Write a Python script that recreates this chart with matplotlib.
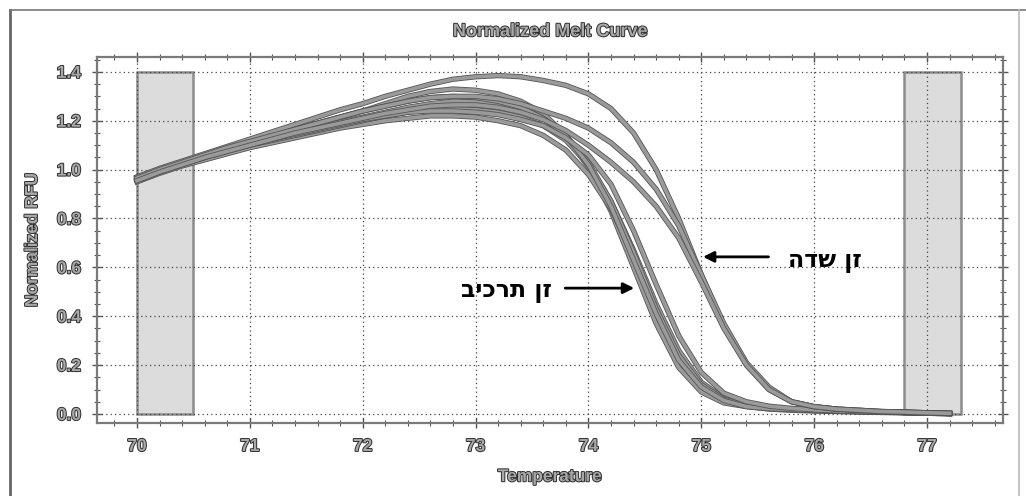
import numpy as np
import matplotlib.pyplot as plt
import matplotlib.patheffects as pe
from matplotlib.patches import Rectangle
from matplotlib.ticker import MultipleLocator

plt.rcParams['font.family'] = ['Liberation Sans', 'DejaVu Sans']

# melt temperatures (deg C)
temps = [70.0, 70.2, 70.4, 70.6, 70.8, 71.0, 71.2, 71.4, 71.6, 71.8,
         72.0, 72.2, 72.4, 72.6, 72.8, 73.0, 73.2, 73.4, 73.6, 73.8,
         74.0, 74.2, 74.4, 74.6, 74.8, 75.0, 75.2, 75.4, 75.6, 75.8,
         76.0, 76.2, 76.4, 76.6, 76.8, 77.0, 77.2]

# graft strain wells (earlier melt)
graft1 = [0.96, 0.995, 1.025, 1.055, 1.085, 1.11, 1.14, 1.165, 1.19, 1.215,
          1.24, 1.27, 1.30, 1.32, 1.33, 1.325, 1.31, 1.28, 1.23, 1.14,
          1.01, 0.83, 0.60, 0.37, 0.19, 0.09, 0.045, 0.03, 0.02, 0.015,
          0.012, 0.01, 0.008, 0.006, 0.005, 0.003, 0.0]
graft2 = [0.95, 0.985, 1.015, 1.04, 1.065, 1.09, 1.11, 1.13, 1.15, 1.17,
          1.185, 1.20, 1.21, 1.22, 1.22, 1.215, 1.20, 1.18, 1.14, 1.08,
          0.98, 0.84, 0.65, 0.44, 0.25, 0.12, 0.06, 0.035, 0.025, 0.02,
          0.015, 0.012, 0.01, 0.008, 0.006, 0.004, 0.002]
graft3 = [0.96, 0.995, 1.025, 1.05, 1.075, 1.10, 1.12, 1.14, 1.16, 1.18,
          1.20, 1.22, 1.235, 1.245, 1.25, 1.245, 1.235, 1.215, 1.18, 1.12,
          1.02, 0.87, 0.67, 0.45, 0.26, 0.13, 0.065, 0.04, 0.028, 0.02,
          0.016, 0.013, 0.01, 0.008, 0.006, 0.004, 0.002]
graft4 = [0.965, 1.0, 1.03, 1.06, 1.085, 1.11, 1.135, 1.155, 1.175, 1.195,
          1.215, 1.235, 1.255, 1.27, 1.28, 1.28, 1.27, 1.25, 1.21, 1.14,
          1.03, 0.87, 0.66, 0.43, 0.24, 0.12, 0.06, 0.035, 0.025, 0.02,
          0.015, 0.012, 0.01, 0.008, 0.006, 0.004, 0.002]
graft5 = [0.955, 0.99, 1.02, 1.05, 1.08, 1.11, 1.14, 1.165, 1.19, 1.215,
          1.24, 1.26, 1.28, 1.295, 1.30, 1.295, 1.28, 1.255, 1.21, 1.14,
          1.02, 0.85, 0.63, 0.41, 0.22, 0.11, 0.055, 0.03, 0.022, 0.018,
          0.014, 0.011, 0.009, 0.007, 0.005, 0.003, 0.001]
graft6 = [0.97, 1.0, 1.03, 1.06, 1.085, 1.105, 1.125, 1.145, 1.165, 1.185,
          1.205, 1.22, 1.235, 1.24, 1.24, 1.235, 1.225, 1.205, 1.18, 1.13,
          1.06, 0.94, 0.75, 0.53, 0.32, 0.17, 0.085, 0.05, 0.032, 0.023,
          0.017, 0.013, 0.01, 0.008, 0.006, 0.004, 0.002]

# field strain wells (later melt)
field1 = [0.97, 1.005, 1.035, 1.065, 1.095, 1.125, 1.155, 1.185, 1.215, 1.245,
          1.27, 1.30, 1.325, 1.35, 1.37, 1.38, 1.385, 1.38, 1.365, 1.345,
          1.31, 1.25, 1.15, 1.00, 0.80, 0.57, 0.36, 0.20, 0.10, 0.05,
          0.03, 0.02, 0.015, 0.01, 0.008, 0.005, 0.002]
field2 = [0.965, 1.0, 1.03, 1.06, 1.09, 1.115, 1.14, 1.165, 1.19, 1.215,
          1.24, 1.26, 1.28, 1.295, 1.30, 1.30, 1.29, 1.27, 1.24, 1.21,
          1.17, 1.11, 1.03, 0.92, 0.77, 0.57, 0.37, 0.21, 0.11, 0.05,
          0.03, 0.02, 0.015, 0.01, 0.008, 0.005, 0.003]
field3 = [0.955, 0.99, 1.02, 1.05, 1.075, 1.10, 1.125, 1.15, 1.17, 1.19,
          1.21, 1.23, 1.245, 1.26, 1.265, 1.265, 1.255, 1.235, 1.205, 1.16,
          1.10, 1.03, 0.95, 0.85, 0.72, 0.54, 0.35, 0.20, 0.10, 0.05,
          0.03, 0.02, 0.015, 0.01, 0.008, 0.005, 0.003]

curves = [graft1, graft2, graft3, graft4, graft5, graft6, field1, field2, field3]

# baseline regions used for normalization
left_region = (70.0, 70.5)
right_region = (76.8, 77.3)
region_top = 1.4

label_field = "זן שדה"
label_graft = "זן תרכיב"

outline = [pe.withStroke(linewidth=1.4, foreground='#2e2e2e')]

fig = plt.figure(figsize=(10.26, 4.96), dpi=100)
ax = fig.add_axes([97 / 1026, 1 - 423 / 496, 906 / 1026, 366 / 496])

# outer frame
fig.add_artist(plt.Line2D([10 / 1026, 10 / 1026], [0, 1 - 10 / 496], color='#666666', lw=2))
fig.add_artist(plt.Line2D([10 / 1026, 1], [1 - 10 / 496, 1 - 10 / 496], color='#777777', lw=1.2))
fig.add_artist(plt.Line2D([1019 / 1026, 1019 / 1026], [0, 1 - 10 / 496], color='#bbbbbb', lw=1.2))

for lo, hi in [left_region, right_region]:
    ax.add_patch(Rectangle((lo, 0.0), hi - lo, region_top, facecolor='#dcdcdc',
                           edgecolor='#8c8c8c', lw=1.8, zorder=1))

for c in curves:
    ax.plot(temps, c, color='#9a9a9a', lw=2.6, zorder=3,
            path_effects=[pe.Stroke(linewidth=3.8, foreground='#555555'), pe.Normal()])

ax.set_xlim(69.646, 77.673)
ax.set_ylim(-0.037, 1.461)
ax.xaxis.set_major_locator(MultipleLocator(1))
ax.xaxis.set_minor_locator(MultipleLocator(0.2))
ax.yaxis.set_major_locator(MultipleLocator(0.2))
ax.yaxis.set_minor_locator(MultipleLocator(0.05))
ax.yaxis.set_major_formatter(plt.FormatStrFormatter('%.1f'))

ax.grid(True, which='major', linestyle=(0, (1, 2.5)), color='#444444', lw=0.9)
ax.tick_params(which='both', direction='inout', top=True, right=True, color='#555555')
ax.tick_params(which='major', length=7, width=1, labelsize=12.5, pad=8, labelcolor='#a8a8a8')
ax.tick_params(which='minor', length=4, width=0.8)
for lab in ax.get_xticklabels() + ax.get_yticklabels():
    lab.set_fontweight('bold')
    lab.set_path_effects(outline)
for s in ax.spines.values():
    s.set_color('#7a7a7a')
    s.set_linewidth(1.6)

ax.set_xlabel('Temperature', fontsize=12.5, fontweight='bold', color='#a8a8a8',
              labelpad=11, path_effects=outline)
ax.set_ylabel('Normalized RFU', fontsize=12.5, fontweight='bold', color='#a8a8a8',
              labelpad=12, path_effects=outline)
ax.set_title('Normalized Melt Curve', fontsize=13, fontweight='bold', color='#a8a8a8',
             pad=15, path_effects=outline)

# strain annotations (Hebrew shown in visual order)
ax.annotate('', xy=(74.99, 0.643), xytext=(75.62, 0.643),
            arrowprops=dict(arrowstyle='-|>', color='black', lw=2, mutation_scale=16), zorder=5)
ax.text(76.42, 0.625, label_field[::-1], ha='right', va='center', fontsize=17,
        fontweight='bold', color='black', family=['DejaVu Sans'], zorder=5)
ax.annotate('', xy=(74.43, 0.515), xytext=(73.77, 0.515),
            arrowprops=dict(arrowstyle='-|>', color='black', lw=2, mutation_scale=16), zorder=5)
ax.text(73.68, 0.505, label_graft[::-1], ha='right', va='center', fontsize=17,
        fontweight='bold', color='black', family=['DejaVu Sans'], zorder=5)

fig.savefig('out.png', dpi=100)
